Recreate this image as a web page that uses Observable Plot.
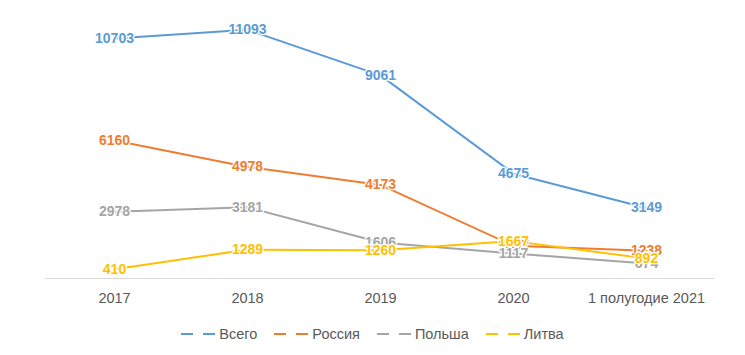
<!DOCTYPE html>
<html>
<head>
<meta charset="utf-8">
<script src="https://cdn.jsdelivr.net/npm/d3@7"></script>
<script src="https://cdn.jsdelivr.net/npm/@observablehq/plot@0.6"></script>
<style>
  body { margin: 0; background: #fff; font-family: "Liberation Sans", Arial, sans-serif; }
  #wrap { position: relative; width: 745px; height: 355px; }
  #legend { position: absolute; left: 0; top: 326px; width: 745px; display: flex; justify-content: center; gap: 17px; font-size: 14.5px; color: #595959; }
  .item { display: flex; align-items: center; gap: 2px; }
</style>
</head>
<body>
<div id="wrap"><div id="chart"></div><div id="legend"></div></div>
<script>
const categories = ["2017", "2018", "2019", "2020", "1 полугодие 2021"];
const seriesNames = ["Всего", "Россия", "Польша", "Литва"];
const seriesColors = ["#5B9BD5", "#ED7D31", "#A5A5A5", "#FFC000"];
const total = [10703, 11093, 9061, 4675, 3149];
const russia = [6160, 4978, 4173, 1457, 1238];
const poland = [2978, 3181, 1606, 1117, 674];
const lithuania = [410, 1289, 1260, 1667, 892];

const seriesValues = [total, russia, poland, lithuania];
const data = [];
seriesNames.forEach((s, i) => categories.forEach((c, j) => data.push({series: s, cat: c, value: seriesValues[i][j]})));
const colorOf = Object.fromEntries(seriesNames.map((s, i) => [s, seriesColors[i]]));

const chart = Plot.plot({
  width: 745,
  height: 312,
  marginLeft: 45,
  marginRight: 31,
  marginTop: 9,
  marginBottom: 34,
  style: {fontFamily: "Liberation Sans, Arial, sans-serif", background: "#fff"},
  x: {type: "point", domain: categories, padding: 0.5, label: null},
  y: {domain: [0, 12000], axis: null},
  color: {domain: seriesNames, range: seriesColors},
  marks: [
    Plot.ruleY([0], {stroke: "#d9d9d9", strokeWidth: 1}),
    Plot.axisX({tickSize: 0, tickPadding: 14, fontSize: 14.5, color: "#595959", label: null}),
    ...seriesNames.map(s => Plot.lineY(data.filter(d => d.series === s), {x: "cat", y: "value", stroke: colorOf[s], strokeWidth: 2})),
    ...seriesNames.map(s => Plot.text(data.filter(d => d.series === s), {
      x: "cat", y: "value", text: d => String(d.value), fill: colorOf[s],
      fontSize: 14, fontWeight: "bold", stroke: "white", strokeWidth: 2.5
    }))
  ]
});
document.getElementById("chart").appendChild(chart);

const legend = document.getElementById("legend");
seriesNames.forEach((s, i) => {
  const it = document.createElement("div");
  it.className = "item";
  it.innerHTML = `<svg width="36" height="10"><line x1="0" x2="12" y1="5" y2="5" stroke="${seriesColors[i]}" stroke-width="2"/><line x1="22" x2="34" y1="5" y2="5" stroke="${seriesColors[i]}" stroke-width="2"/></svg><span>${s}</span>`;
  legend.appendChild(it);
});
</script>
</body>
</html>
